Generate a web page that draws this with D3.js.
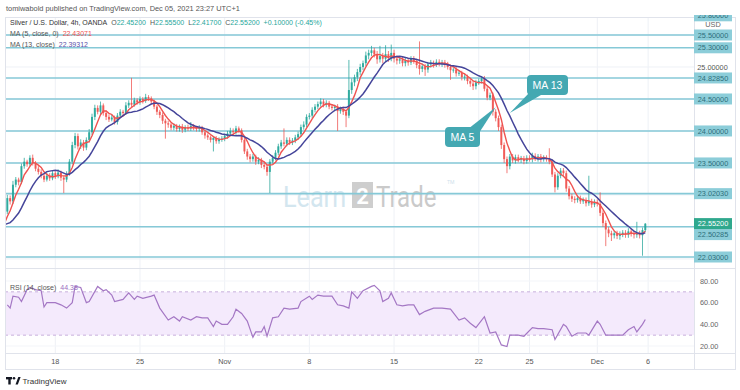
<!DOCTYPE html>
<html>
<head>
<meta charset="utf-8">
<script src="https://cdn.jsdelivr.net/npm/d3@7"></script>
<style>
  body { margin: 0; background: #fff; }
  svg { display: block; font-family: "Liberation Sans", Arial, sans-serif; }
</style>
</head>
<body>
<svg id="chart" width="740" height="390"></svg>
<script>
// ---- data (4h bars, 6 per trading day, from Wed Oct 13) ----
const barsPerDay = 6;
const firstOpen = 22.62;
// closes before the first visible bar, only used to seed the moving averages
const preCloses = [22.74,22.70,22.62,22.55,22.48,22.40,22.36,22.34,22.40,22.46,22.55,22.62];

const closes = [
  22.74,22.95,22.90,23.16,23.24,23.20,23.45,23.52,23.48,23.58,23.50,23.41,
  23.36,23.30,23.24,23.30,23.26,23.34,23.29,23.35,23.27,23.24,23.33,23.52,
  23.78,23.92,23.76,23.82,23.74,23.86,23.98,24.22,24.36,24.30,24.40,24.28,
  24.22,24.18,24.21,24.14,24.24,24.30,24.28,24.40,24.44,24.41,24.48,24.45,
  24.50,24.47,24.53,24.51,24.46,24.38,24.30,24.25,24.16,24.12,24.10,24.05,
  24.08,24.03,24.07,24.02,24.06,24.04,24.08,24.05,24.03,24.05,23.98,23.93,
  23.90,23.86,23.89,23.84,23.87,23.88,23.92,23.96,24.00,23.98,24.04,24.01,
  23.86,23.68,23.60,23.56,23.60,23.52,23.55,23.47,23.44,23.36,23.52,23.58,
  23.66,23.76,23.82,23.80,23.86,23.82,23.85,23.90,23.95,24.06,24.10,24.22,
  24.24,24.33,24.38,24.42,24.46,24.41,24.44,24.38,24.36,24.38,24.31,24.34,
  24.30,24.24,24.64,24.76,24.84,24.92,25.00,25.06,25.18,25.22,25.26,25.20,
  25.12,25.17,25.13,25.20,25.14,25.22,25.13,25.10,25.12,25.06,25.10,25.07,
  25.13,25.09,25.03,24.97,25.01,24.96,25.04,25.07,25.04,25.08,25.05,25.07,
  25.04,25.00,24.95,24.96,24.90,24.91,24.84,24.85,24.78,24.74,24.70,24.76,
  24.78,24.82,24.66,24.52,24.56,24.30,24.20,24.06,23.78,23.56,23.45,23.60,
  23.54,23.59,23.55,23.57,23.53,23.58,23.56,23.61,23.57,23.60,23.56,23.58,
  23.56,23.52,23.32,23.12,23.30,23.38,23.34,23.10,22.98,22.94,22.92,22.95,
  22.90,22.92,22.87,22.90,22.85,22.89,22.86,22.72,22.56,22.46,22.40,22.37,
  22.40,22.36,22.39,22.41,22.38,22.43,22.40,22.38,22.40,22.37,22.45,22.55
];
const highs = [
  22.78,23.00,22.99,23.22,23.28,23.27,23.49,23.58,23.55,23.62,23.63,23.53,
  23.45,23.40,23.33,23.35,23.34,23.38,23.37,23.40,23.38,23.30,23.37,23.56,
  23.83,23.97,23.96,23.87,23.86,23.90,24.03,24.27,24.41,24.40,24.46,24.43,
  24.32,24.26,24.25,24.24,24.28,24.34,24.33,24.45,24.48,24.83,24.52,24.51,
  24.54,24.53,24.58,24.56,24.54,24.49,24.41,24.33,24.29,24.19,24.16,24.13,
  24.12,24.11,24.10,24.11,24.09,24.10,24.14,24.11,24.08,24.09,24.08,24.01,
  23.96,23.93,23.92,23.92,23.90,23.92,23.96,24.00,24.05,24.04,24.08,24.07,
  24.04,23.90,23.72,23.64,23.64,23.63,23.59,23.58,23.51,23.47,23.56,23.62,
  23.70,23.80,23.86,24.04,23.90,23.90,23.89,23.94,23.99,24.10,24.15,24.26,
  24.28,24.37,24.42,24.46,24.51,24.50,24.48,24.47,24.42,24.41,24.42,24.38,
  24.38,24.33,25.11,24.82,24.88,24.97,25.05,25.10,25.24,25.27,25.33,25.30,
  25.25,25.33,25.22,25.34,25.25,25.35,25.27,25.18,25.17,25.16,25.14,25.14,
  25.17,25.17,25.13,25.40,25.05,25.05,25.08,25.11,25.10,25.12,25.12,25.11,
  25.11,25.08,25.04,24.99,25.00,24.95,24.94,24.89,24.88,24.82,24.78,24.80,
  24.82,24.86,24.86,24.70,24.60,24.60,24.34,24.24,24.10,23.82,23.60,23.64,
  23.64,23.63,23.63,23.61,23.61,23.62,23.62,23.66,23.65,23.64,23.64,23.62,
  23.62,23.73,23.56,23.36,23.34,23.42,23.42,23.38,23.14,23.02,22.98,22.99,
  22.99,22.96,22.96,23.30,22.94,22.93,22.93,23.04,22.76,22.60,22.50,22.44,
  22.44,22.44,22.43,22.45,22.45,22.48,22.47,22.44,22.58,22.44,22.49,22.56
];
const lows = [
  22.58,22.70,22.85,22.86,23.12,23.15,23.17,23.41,23.44,23.45,23.46,23.37,
  23.32,23.26,23.20,23.21,23.22,23.23,23.25,23.26,23.22,23.03,23.20,23.30,
  23.48,23.73,23.71,23.72,23.69,23.70,23.82,23.94,24.17,24.26,24.26,24.24,
  24.17,24.14,24.15,24.10,24.10,24.20,24.24,24.25,24.36,24.37,24.38,24.41,
  24.41,24.43,24.44,24.47,24.42,24.34,24.25,24.20,24.11,23.88,24.05,24.01,
  24.01,23.99,23.99,23.97,23.98,24.00,24.00,24.01,23.99,23.99,23.94,23.88,
  23.86,23.82,23.68,23.80,23.80,23.83,23.84,23.88,23.92,23.94,23.94,23.97,
  23.82,23.64,23.55,23.51,23.52,23.47,23.48,23.42,23.40,23.30,23.03,23.49,
  23.54,23.62,23.72,23.76,23.76,23.78,23.78,23.81,23.86,23.91,24.02,24.06,
  24.18,24.20,24.29,24.34,24.38,24.37,24.37,24.34,24.32,24.32,24.00,24.27,
  24.25,24.06,24.20,24.58,24.70,24.78,24.87,24.95,25.01,25.12,25.17,25.15,
  25.05,25.07,25.06,25.08,25.08,25.09,25.07,25.04,25.05,25.01,25.01,25.02,
  25.03,25.05,24.98,24.88,24.92,24.86,24.91,24.99,24.99,25.00,25.01,25.00,
  24.99,24.96,24.80,24.91,24.85,24.86,24.79,24.79,24.73,24.69,24.64,24.65,
  24.72,24.74,24.62,24.48,24.48,24.24,24.15,24.00,23.72,23.50,23.34,23.40,
  23.50,23.49,23.51,23.50,23.48,23.49,23.52,23.51,23.53,23.52,23.51,23.52,
  23.52,23.48,23.28,23.04,23.08,23.26,23.29,23.05,22.93,22.89,22.87,22.88,
  22.86,22.86,22.82,22.83,22.80,22.81,22.82,22.67,22.50,22.20,22.34,22.28,
  22.32,22.31,22.30,22.34,22.33,22.33,22.35,22.32,22.33,22.32,22.05,22.42
];

// RSI(14) as [bar, value]
const rsiPoints = [[1,58],[2,55],[3,66],[5,65],[6,61],[8,72],[9,74],[11,72],[13,71],[14,56],[15,60],[18,60],
  [20,58],[22,55],[24,60],[25,75],[27,74],[29,60],[30,61],[33,75],[35,71],[36,72],[38,67],[39,61],[42,63],
  [44,69],[46,63],[47,66],[49,64],[52,66],[53,67],[55,55],[58,44],[60,47],[62,43],[63,47],[66,44],[68,47],
  [70,46],[72,46],[74,38],[75,43],[77,40],[79,40],[81,47],[82,54],[84,50],[86,43],[88,28],[89,33],[91,33],
  [92,38],[93,29],[95,46],[97,47],[99,55],[101,54],[104,55],[105,61],[108,66],[109,63],[111,67],[113,66],
  [116,66],[118,58],[120,57],[122,55],[123,70],[125,64],[127,71],[130,75],[131,76],[133,71],[134,61],[136,64],
  [137,69],[139,58],[141,57],[143,58],[145,58],[147,49],[149,52],[152,55],[155,55],[158,54],[161,44],[163,46],
  [165,41],[167,37],[170,47],[172,32],[174,33],[176,21],[178,19.5],[179,30],[182,30],[184,29],[187,37],
  [189,36],[191,36],[194,35],[195,26],[198,40],[199,38],[201,29],[203,32],[206,32],[207,30],[210,43],
  [211,40],[213,30],[216,30],[219,30],[221,35],[223,38],[224,33],[226,40],[227,44.4]];

const tickDays = [3, 8, 13, 18, 23, 28, 31, 35, 38];
const tickLabels = ["18", "25", "Nov", "8", "15", "22", "25", "Dec", "6"];

const levels = [25.8, 25.5, 25.3, 24.8285, 24.5, 24.0, 23.5, 23.0203, 22.50285, 22.03];
const levelLabels = ["25.80000","25.50000","25.30000","24.82850","24.50000","24.00000","23.50000","23.02030","22.50285","22.03000"];
const lastPrice = 22.552;
const rsiTicks = [80, 60, 40, 20];
const priceTicks = [22.0, 22.5, 23.0, 23.5, 24.0, 24.5, 25.0, 25.5];

// ---- layout ----
const L = 5, R = 694, FR = 735, T = 17, MB = 268, RB = 353, XB = 369;
const upC = "#26a69a", dnC = "#ef5350", lvlC = "#86c9d7", grid = "#eef1f6";

const svg = d3.select("#chart");
const x = d3.scaleLinear().domain([0, 227]).range([4.5, 645.3]);
const y = d3.scaleLinear().domain([22.03, 25.5]).range([257, 35]);
const ry = d3.scaleLinear().domain([20, 80]).range([346, 281]);

svg.append("defs").html(
  `<clipPath id="mainClip"><rect x="${L}" y="${T}" width="${R - L}" height="${MB - T}"/></clipPath>
   <clipPath id="rsiClip"><rect x="${L}" y="${MB}" width="${R - L}" height="${RB - MB}"/></clipPath>
   <clipPath id="axClip"><rect x="${R}" y="15" width="${FR - R}" height="${MB - 15}"/></clipPath>`);

// header
svg.append("text").attr("x", 6).attr("y", 11).attr("font-size", 7.4).attr("fill", "#555")
  .text("tomiwabold published on TradingView.com, Dec 05, 2021 23:27 UTC+1");

// grid
svg.append("g").selectAll("line").data(tickDays).join("line")
  .attr("x1", d => x(d * barsPerDay)).attr("x2", d => x(d * barsPerDay))
  .attr("y1", T).attr("y2", RB).attr("stroke", grid);
svg.append("g").attr("clip-path", "url(#mainClip)").selectAll("line").data(priceTicks).join("line")
  .attr("x1", L).attr("x2", R).attr("y1", d => y(d)).attr("y2", d => y(d)).attr("stroke", grid);
svg.append("g").selectAll("line").data(rsiTicks).join("line")
  .attr("x1", L).attr("x2", R).attr("y1", d => ry(d)).attr("y2", d => ry(d)).attr("stroke", "#f3f5f9");

// watermark (squeezed horizontally with a transform so the boxes stay tight)
const wm = svg.append("g").attr("font-family", "Roboto, 'Liberation Sans', sans-serif");
wm.append("text").attr("transform", "translate(283,207) scale(0.84,1)").attr("font-size", 30)
  .attr("fill", "#d3e6ef").text("Learn");
wm.append("rect").attr("x", 352).attr("y", 182).attr("width", 21).attr("height", 26).attr("fill", "#bdbdbd").attr("opacity", 0.75);
wm.append("text").attr("x", 362.5).attr("y", 204).attr("text-anchor", "middle").attr("font-size", 22)
  .attr("font-weight", "bold").attr("fill", "#fff").text("2");
wm.append("text").attr("transform", "translate(376,207) scale(0.8,1)").attr("font-size", 30)
  .attr("fill", "#cacaca").text("Trade");
wm.append("text").attr("x", 447).attr("y", 184).attr("font-size", 5).attr("fill", "#cfe2ec").text("TM");

// horizontal levels
const main = svg.append("g").attr("clip-path", "url(#mainClip)");
main.append("g").selectAll("line").data(levels).join("line")
  .attr("x1", L).attr("x2", R).attr("y1", d => y(d)).attr("y2", d => y(d))
  .attr("stroke", lvlC).attr("stroke-width", 1.6);

// candles
const bars = closes.map((c, i) => {
  const o = i === 0 ? firstOpen : closes[i - 1];
  return { i, o, c, h: Math.max(highs[i], o, c), l: Math.min(lows[i], o, c) };
});
const cg = main.append("g");
cg.selectAll("line").data(bars).join("line")
  .attr("x1", d => x(d.i)).attr("x2", d => x(d.i))
  .attr("y1", d => y(d.h)).attr("y2", d => y(d.l))
  .attr("stroke", d => d.c >= d.o ? upC : dnC).attr("stroke-width", 0.9).attr("opacity", 0.85);
cg.selectAll("rect").data(bars).join("rect")
  .attr("x", d => x(d.i) - 1).attr("width", 2)
  .attr("y", d => y(Math.max(d.o, d.c)))
  .attr("height", d => Math.max(1, Math.abs(y(d.o) - y(d.c))))
  .attr("fill", d => d.c >= d.o ? upC : dnC).attr("opacity", 0.9);

// moving averages
const all = preCloses.concat(closes);
const sma = n => closes.map((c, i) => {
  const k = i + preCloses.length;
  return { i, v: d3.mean(all.slice(Math.max(0, k - n + 1), k + 1)) };
});
const line = d3.line().x(d => x(d.i)).y(d => y(d.v));
main.append("path").datum(sma(5)).attr("d", line).attr("fill", "none").attr("stroke", "#ef5350").attr("stroke-width", 1.4);
main.append("path").datum(sma(13)).attr("d", line).attr("fill", "none").attr("stroke", "#45459a").attr("stroke-width", 1.5);

// callouts
const callouts = [
  { text: "MA 13", bar: 179, price: 24.28, bx: 527, by: 75, bw: 41, bh: 20, base: [[529, 93], [541, 95]] },
  { text: "MA 5", bar: 174, price: 24.37, bx: 445, by: 127, bw: 35, bh: 20, base: [[468, 129], [479, 133]] }
];
const co = svg.append("g");
callouts.forEach(c => {
  co.append("path").attr("fill", "#44a8b2")
    .attr("d", `M${c.base[0][0]},${c.base[0][1]}L${x(c.bar)},${y(c.price)}L${c.base[1][0]},${c.base[1][1]}Z`);
  co.append("rect").attr("x", c.bx).attr("y", c.by).attr("width", c.bw).attr("height", c.bh)
    .attr("rx", 4).attr("fill", "#44a8b2");
  co.append("text").attr("x", c.bx + c.bw / 2).attr("y", c.by + c.bh / 2 + 3.8).attr("text-anchor", "middle")
    .attr("font-size", 10.5).attr("fill", "#fff").text(c.text);
});

// legend (tspans flow one after another)
const lg = svg.append("g").attr("font-size", 7);
const l1 = lg.append("text").attr("x", 10).attr("y", 25);
l1.append("tspan").attr("fill", "#333").text("Silver / U.S. Dollar, 4h, OANDA");
[["O", "22.45200"], ["H", "22.55500"], ["L", "22.41700"], ["C", "22.55200"]].forEach(([k, v]) => {
  l1.append("tspan").attr("dx", 4).attr("fill", "#555").text(k);
  l1.append("tspan").attr("fill", upC).text(v);
});
l1.append("tspan").attr("dx", 4).attr("fill", upC).text("+0.10000 (-0.45%)");
const l2 = lg.append("text").attr("x", 10).attr("y", 36);
l2.append("tspan").attr("fill", "#555").text("MA (5, close, 0)");
l2.append("tspan").attr("dx", 4).attr("fill", "#ef5350").text("22.43071");
const l3 = lg.append("text").attr("x", 10).attr("y", 47);
l3.append("tspan").attr("fill", "#555").text("MA (13, close)");
l3.append("tspan").attr("dx", 4).attr("fill", "#5a4fa8").text("22.39312");

// RSI pane
const rsi = svg.append("g").attr("clip-path", "url(#rsiClip)");
rsi.append("rect").attr("x", L).attr("width", R - L).attr("y", ry(70)).attr("height", ry(30) - ry(70)).attr("fill", "#f4eafc");
rsi.selectAll("line.b").data([70, 30]).join("line")
  .attr("x1", L).attr("x2", R).attr("y1", d => ry(d)).attr("y2", d => ry(d))
  .attr("stroke", "#c8b0dc").attr("stroke-dasharray", "3,3");
rsi.append("path").datum(rsiPoints)
  .attr("d", d3.line().x(d => x(d[0])).y(d => ry(d[1])))
  .attr("fill", "none").attr("stroke", "#a477c4").attr("stroke-width", 1.2);
const rl = svg.append("text").attr("x", 10).attr("y", 290).attr("font-size", 7);
rl.append("tspan").attr("fill", "#555").text("RSI (14, close)");
rl.append("tspan").attr("dx", 4).attr("fill", "#9c6fbf").text("44.38");

// frame & separators
const fr = svg.append("g").attr("stroke", "#e0e3eb").attr("fill", "none");
fr.append("rect").attr("x", L + 0.5).attr("y", T + 0.5).attr("width", FR - L).attr("height", XB - T);
fr.append("line").attr("x1", R + 0.5).attr("x2", R + 0.5).attr("y1", T).attr("y2", XB);
fr.append("line").attr("x1", L).attr("x2", FR).attr("y1", MB + 0.5).attr("y2", MB + 0.5);
fr.append("line").attr("x1", L).attr("x2", FR).attr("y1", RB + 0.5).attr("y2", RB + 0.5);

// price axis
const ax = svg.append("g").attr("clip-path", "url(#axClip)").attr("font-size", 7.3);
ax.append("text").attr("x", 712.5).attr("y", y(25.0) + 2.6).attr("text-anchor", "middle").attr("fill", "#555").text("25.00000");
const curY = y(lastPrice);
levels.forEach((p, k) => {
  let ly = y(p);
  if (Math.abs(ly - curY) < 11) ly = curY + 11;
  ax.append("rect").attr("x", R).attr("y", ly - 5.5).attr("width", 38).attr("height", 11).attr("fill", "#8ccdd9");
  ax.append("text").attr("x", R + 19).attr("y", ly + 2.6).attr("text-anchor", "middle").attr("fill", "#2d6f7b").text(levelLabels[k]);
});
ax.append("rect").attr("x", R).attr("y", curY - 5.5).attr("width", 38).attr("height", 11).attr("fill", "#2fa88d");
ax.append("text").attr("x", R + 19).attr("y", curY + 2.6).attr("text-anchor", "middle").attr("fill", "#fff").text("22.55200");
ax.append("text").attr("x", R + 19).attr("y", 27).attr("text-anchor", "middle").attr("fill", "#666").text("USD");

// RSI axis
svg.append("g").attr("font-size", 7.3).selectAll("text").data(rsiTicks).join("text")
  .attr("x", 700).attr("y", d => ry(d) + 2.6).attr("fill", "#666").text(d => d.toFixed(2));

// time axis
svg.append("g").attr("font-size", 7.3).selectAll("text").data(tickDays).join("text")
  .attr("x", d => x(d * barsPerDay)).attr("y", 364).attr("text-anchor", "middle").attr("fill", "#555")
  .text((d, k) => tickLabels[k]);

// TradingView logo
const lo = svg.append("g").attr("fill", "#131722");
lo.append("rect").attr("x", 6).attr("y", 377).attr("width", 6).attr("height", 2.4);
lo.append("rect").attr("x", 8.3).attr("y", 377).attr("width", 2.4).attr("height", 7.5);
lo.append("circle").attr("cx", 14).attr("cy", 378.3).attr("r", 1.3);
lo.append("path").attr("d", "M15.5,384.5L18.3,377L20.6,377L17.8,384.5Z");
svg.append("text").attr("x", 22.5).attr("y", 384).attr("font-size", 8).attr("fill", "#333").text("TradingView");
</script>
</body>
</html>
